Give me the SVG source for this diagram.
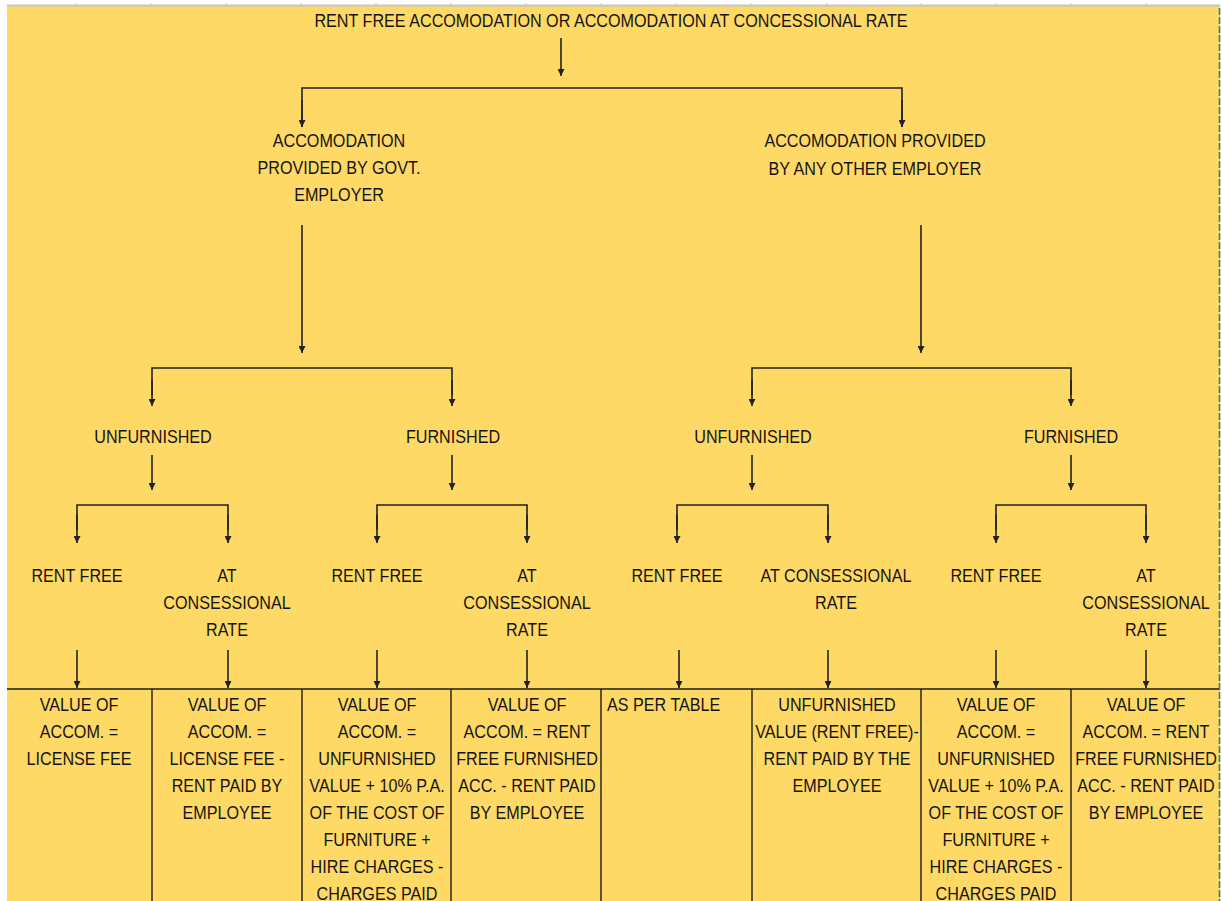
<svg xmlns="http://www.w3.org/2000/svg" width="1222" height="901" viewBox="0 0 1222 901">
<defs>
<style>
.t{font-family:"Liberation Sans",Arial,sans-serif;font-size:19px;fill:#141414;text-anchor:middle}
.l{text-anchor:start}
.c{fill:none;stroke:#222;stroke-width:1.6}
.g{stroke:#1a1a1a;stroke-width:1.4}
</style>
<marker id="ah" viewBox="0 0 10 10" refX="10" refY="5" markerWidth="9" markerHeight="7" orient="auto" markerUnits="userSpaceOnUse"><path d="M0,0 L10,5 L0,10 z" fill="#222"/></marker>
</defs>
<rect width="1222" height="901" fill="#ffffff"/>
<rect x="7" y="6" width="1213" height="895" fill="#FFD966"/>
<line x1="7" y1="5.5" x2="1220" y2="5.5" stroke="#c6c6c6" stroke-width="2"/>
<g stroke="#c6c6c6" stroke-width="1">
<line x1="76" y1="3" x2="76" y2="6"/><line x1="151" y1="3" x2="151" y2="6"/><line x1="226" y1="3" x2="226" y2="6"/><line x1="301" y1="3" x2="301" y2="6"/><line x1="376" y1="3" x2="376" y2="6"/><line x1="451" y1="3" x2="451" y2="6"/><line x1="526" y1="3" x2="526" y2="6"/><line x1="601" y1="3" x2="601" y2="6"/><line x1="676" y1="3" x2="676" y2="6"/><line x1="751" y1="3" x2="751" y2="6"/><line x1="827" y1="3" x2="827" y2="6"/><line x1="921" y1="3" x2="921" y2="6"/><line x1="996" y1="3" x2="996" y2="6"/><line x1="1071" y1="3" x2="1071" y2="6"/><line x1="1146" y1="3" x2="1146" y2="6"/>
</g>
<line x1="1219.5" y1="8" x2="1219.5" y2="901" stroke="#2e8b3e" stroke-width="1.6" stroke-dasharray="7 2"/>

<g id="connectors">
<line class="c" x1="561" y1="38" x2="561" y2="76" marker-end="url(#ah)"/>
<path class="c" d="M302,127 V88 H902 V127" />
<line class="c" x1="302" y1="100" x2="302" y2="127" marker-end="url(#ah)"/>
<line class="c" x1="902" y1="100" x2="902" y2="127" marker-end="url(#ah)"/>
<line class="c" x1="302" y1="225" x2="302" y2="353" marker-end="url(#ah)"/>
<line class="c" x1="921" y1="225" x2="921" y2="353" marker-end="url(#ah)"/>
<path class="c" d="M152,395 V368 H452 V395"/>
<line class="c" x1="152" y1="380" x2="152" y2="406" marker-end="url(#ah)"/>
<line class="c" x1="452" y1="380" x2="452" y2="406" marker-end="url(#ah)"/>
<path class="c" d="M752,395 V368 H1071 V395"/>
<line class="c" x1="752" y1="380" x2="752" y2="406" marker-end="url(#ah)"/>
<line class="c" x1="1071" y1="380" x2="1071" y2="406" marker-end="url(#ah)"/>
<line class="c" x1="152" y1="455" x2="152" y2="490" marker-end="url(#ah)"/>
<line class="c" x1="452" y1="455" x2="452" y2="490" marker-end="url(#ah)"/>
<line class="c" x1="752" y1="455" x2="752" y2="490" marker-end="url(#ah)"/>
<line class="c" x1="1071" y1="455" x2="1071" y2="490" marker-end="url(#ah)"/>
<path class="c" d="M77,530 V505 H228 V530"/>
<line class="c" x1="77" y1="515" x2="77" y2="543" marker-end="url(#ah)"/>
<line class="c" x1="228" y1="515" x2="228" y2="543" marker-end="url(#ah)"/>
<path class="c" d="M377,530 V505 H527 V530"/>
<line class="c" x1="377" y1="515" x2="377" y2="543" marker-end="url(#ah)"/>
<line class="c" x1="527" y1="515" x2="527" y2="543" marker-end="url(#ah)"/>
<path class="c" d="M677,530 V505 H828 V530"/>
<line class="c" x1="677" y1="515" x2="677" y2="543" marker-end="url(#ah)"/>
<line class="c" x1="828" y1="515" x2="828" y2="543" marker-end="url(#ah)"/>
<path class="c" d="M996,530 V505 H1146 V530"/>
<line class="c" x1="996" y1="515" x2="996" y2="543" marker-end="url(#ah)"/>
<line class="c" x1="1146" y1="515" x2="1146" y2="543" marker-end="url(#ah)"/>
<line class="c" x1="77" y1="650" x2="77" y2="688" marker-end="url(#ah)"/>
<line class="c" x1="228" y1="650" x2="228" y2="688" marker-end="url(#ah)"/>
<line class="c" x1="377" y1="650" x2="377" y2="688" marker-end="url(#ah)"/>
<line class="c" x1="527" y1="650" x2="527" y2="688" marker-end="url(#ah)"/>
<line class="c" x1="679" y1="650" x2="679" y2="688" marker-end="url(#ah)"/>
<line class="c" x1="828" y1="650" x2="828" y2="688" marker-end="url(#ah)"/>
<line class="c" x1="996" y1="650" x2="996" y2="688" marker-end="url(#ah)"/>
<line class="c" x1="1146" y1="650" x2="1146" y2="688" marker-end="url(#ah)"/>
</g>

<g id="table-grid">
<line class="g" x1="7" y1="689" x2="1219" y2="689"/>
<line class="g" x1="152" y1="689" x2="152" y2="901"/>
<line class="g" x1="302" y1="689" x2="302" y2="901"/>
<line class="g" x1="451" y1="689" x2="451" y2="901"/>
<line class="g" x1="601" y1="689" x2="601" y2="901"/>
<line class="g" x1="752" y1="689" x2="752" y2="901"/>
<line class="g" x1="921" y1="689" x2="921" y2="901"/>
<line class="g" x1="1071" y1="689" x2="1071" y2="901"/>
</g>

<g id="root"><text class="t" transform="translate(611,27) scale(0.85,1)">RENT FREE ACCOMODATION OR ACCOMODATION AT CONCESSIONAL RATE</text></g>

<g id="govt"><text class="t" transform="translate(339,147) scale(0.85,1)"><tspan x="0">ACCOMODATION</tspan><tspan x="0" dy="27">PROVIDED BY GOVT.</tspan><tspan x="0" dy="27">EMPLOYER</tspan></text></g>
<g id="other"><text class="t" transform="translate(875,147) scale(0.85,1)"><tspan x="0">ACCOMODATION PROVIDED</tspan><tspan x="0" dy="28">BY ANY OTHER EMPLOYER</tspan></text></g>

<g id="govt-unfurnished"><text class="t" transform="translate(153,443) scale(0.85,1)">UNFURNISHED</text></g>
<g id="govt-furnished"><text class="t" transform="translate(453,443) scale(0.85,1)">FURNISHED</text></g>
<g id="other-unfurnished"><text class="t" transform="translate(753,443) scale(0.85,1)">UNFURNISHED</text></g>
<g id="other-furnished"><text class="t" transform="translate(1071,443) scale(0.85,1)">FURNISHED</text></g>

<g id="gu-rentfree"><text class="t" transform="translate(77,582) scale(0.85,1)">RENT FREE</text></g>
<g id="gu-concessional"><text class="t" transform="translate(227,582) scale(0.85,1)"><tspan x="0">AT</tspan><tspan x="0" dy="27">CONSESSIONAL</tspan><tspan x="0" dy="27">RATE</tspan></text></g>
<g id="gf-rentfree"><text class="t" transform="translate(377,582) scale(0.85,1)">RENT FREE</text></g>
<g id="gf-concessional"><text class="t" transform="translate(527,582) scale(0.85,1)"><tspan x="0">AT</tspan><tspan x="0" dy="27">CONSESSIONAL</tspan><tspan x="0" dy="27">RATE</tspan></text></g>
<g id="ou-rentfree"><text class="t" transform="translate(677,582) scale(0.85,1)">RENT FREE</text></g>
<g id="ou-concessional"><text class="t" transform="translate(836,582) scale(0.85,1)"><tspan x="0">AT CONSESSIONAL</tspan><tspan x="0" dy="27">RATE</tspan></text></g>
<g id="of-rentfree"><text class="t" transform="translate(996,582) scale(0.85,1)">RENT FREE</text></g>
<g id="of-concessional"><text class="t" transform="translate(1146,582) scale(0.85,1)"><tspan x="0">AT</tspan><tspan x="0" dy="27">CONSESSIONAL</tspan><tspan x="0" dy="27">RATE</tspan></text></g>

<g id="cell-1"><text class="t" transform="translate(79,711) scale(0.85,1)"><tspan x="0">VALUE OF</tspan><tspan x="0" dy="27">ACCOM. =</tspan><tspan x="0" dy="27">LICENSE FEE</tspan></text></g>
<g id="cell-2"><text class="t" transform="translate(227,711) scale(0.85,1)"><tspan x="0">VALUE OF</tspan><tspan x="0" dy="27">ACCOM. =</tspan><tspan x="0" dy="27">LICENSE FEE -</tspan><tspan x="0" dy="27">RENT PAID BY</tspan><tspan x="0" dy="27">EMPLOYEE</tspan></text></g>
<g id="cell-3"><text class="t" transform="translate(377,711) scale(0.85,1)"><tspan x="0">VALUE OF</tspan><tspan x="0" dy="27">ACCOM. =</tspan><tspan x="0" dy="27">UNFURNISHED</tspan><tspan x="0" dy="27">VALUE + 10% P.A.</tspan><tspan x="0" dy="27">OF THE COST OF</tspan><tspan x="0" dy="27">FURNITURE +</tspan><tspan x="0" dy="27">HIRE CHARGES -</tspan><tspan x="0" dy="27">CHARGES PAID</tspan></text></g>
<g id="cell-4"><text class="t" transform="translate(527,711) scale(0.85,1)"><tspan x="0">VALUE OF</tspan><tspan x="0" dy="27">ACCOM. = RENT</tspan><tspan x="0" dy="27">FREE FURNISHED</tspan><tspan x="0" dy="27">ACC. - RENT PAID</tspan><tspan x="0" dy="27">BY EMPLOYEE</tspan></text></g>
<g id="cell-5"><text class="t l" transform="translate(607,711) scale(0.85,1)">AS PER TABLE</text></g>
<g id="cell-6"><text class="t" transform="translate(837,711) scale(0.85,1)"><tspan x="0">UNFURNISHED</tspan><tspan x="0" dy="27">VALUE (RENT FREE)-</tspan><tspan x="0" dy="27">RENT PAID BY THE</tspan><tspan x="0" dy="27">EMPLOYEE</tspan></text></g>
<g id="cell-7"><text class="t" transform="translate(996,711) scale(0.85,1)"><tspan x="0">VALUE OF</tspan><tspan x="0" dy="27">ACCOM. =</tspan><tspan x="0" dy="27">UNFURNISHED</tspan><tspan x="0" dy="27">VALUE + 10% P.A.</tspan><tspan x="0" dy="27">OF THE COST OF</tspan><tspan x="0" dy="27">FURNITURE +</tspan><tspan x="0" dy="27">HIRE CHARGES -</tspan><tspan x="0" dy="27">CHARGES PAID</tspan></text></g>
<g id="cell-8"><text class="t" transform="translate(1146,711) scale(0.85,1)"><tspan x="0">VALUE OF</tspan><tspan x="0" dy="27">ACCOM. = RENT</tspan><tspan x="0" dy="27">FREE FURNISHED</tspan><tspan x="0" dy="27">ACC. - RENT PAID</tspan><tspan x="0" dy="27">BY EMPLOYEE</tspan></text></g>
</svg>
